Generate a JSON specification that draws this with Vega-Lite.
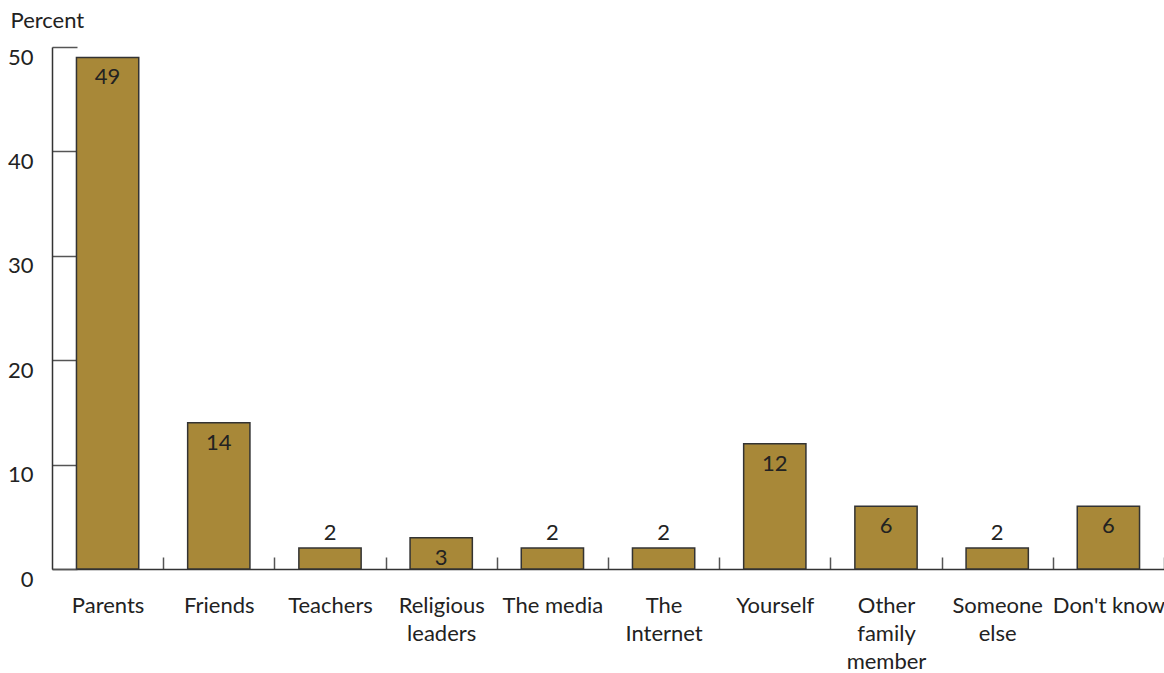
{
  "$schema": "https://vega.github.io/schema/vega-lite/v6.json",
  "width": 1112,
  "height": 522,
  "autosize": "none",
  "padding": {"left": 52, "top": 47, "right": 0, "bottom": 104},
  "background": "white",
  "config": {
    "view": {"stroke": null},
    "font": "Lato",
    "axis": {"labelFont": "Lato", "titleFont": "Lato", "labelColor": "#222222", "titleColor": "#222222", "domainColor": "#333333", "tickColor": "#555555", "grid": false}
  },
  "data": {
    "values": [
      {"source": "Parents", "percent": 49},
      {"source": "Friends", "percent": 14},
      {"source": "Teachers", "percent": 2},
      {"source": "Religious leaders", "percent": 3},
      {"source": "The media", "percent": 2},
      {"source": "The Internet", "percent": 2},
      {"source": "Yourself", "percent": 12},
      {"source": "Other family member", "percent": 6},
      {"source": "Someone else", "percent": 2},
      {"source": "Don't know", "percent": 6}
    ]
  },
  "encoding": {
    "x": {
      "field": "source",
      "type": "nominal",
      "sort": null,
      "scale": {"paddingInner": 0.44, "paddingOuter": 0.22},
      "axis": {
        "title": null,
        "labelAngle": 0,
        "labelFontSize": 22,
        "labelLineHeight": 28,
        "labelBaseline": "top",
        "labelPadding": 38,
        "tickOffset": 55.6,
        "labelOffset": -55.6,
        "tickSize": -12,
        "tickWidth": 1.5,
        "domainWidth": 1.5,
        "labelExpr": "datum.label == 'The media' || datum.label == \"Don't know\" ? datum.label : split(datum.label, ' ')"
      }
    },
    "y": {
      "field": "percent",
      "type": "quantitative",
      "scale": {"domain": [0, 50], "nice": false},
      "axis": {
        "values": [0, 10, 20, 30, 40, 50],
        "title": "Percent",
        "titleAngle": 0,
        "titleAlign": "left",
        "titleBaseline": "middle",
        "titleX": -42,
        "titleY": -27,
        "titleFontSize": 22,
        "titleFontWeight": "normal",
        "labelFontSize": 22,
        "labelOffset": 10,
        "labelPadding": 44,
        "tickSize": -25,
        "tickWidth": 1.5,
        "domainWidth": 1.5
      }
    }
  },
  "layer": [
    {"mark": {"type": "bar", "fill": "#A88838", "stroke": "#333333", "strokeWidth": 1.5}},
    {
      "transform": [{"filter": "datum.percent >= 3"}],
      "mark": {"type": "text", "baseline": "middle", "dy": 20, "fontSize": 22, "color": "#222222"},
      "encoding": {"text": {"field": "percent"}}
    },
    {
      "transform": [{"filter": "datum.percent < 3"}],
      "mark": {"type": "text", "baseline": "middle", "dy": -15, "fontSize": 22, "color": "#222222"},
      "encoding": {"text": {"field": "percent"}}
    }
  ]
}
